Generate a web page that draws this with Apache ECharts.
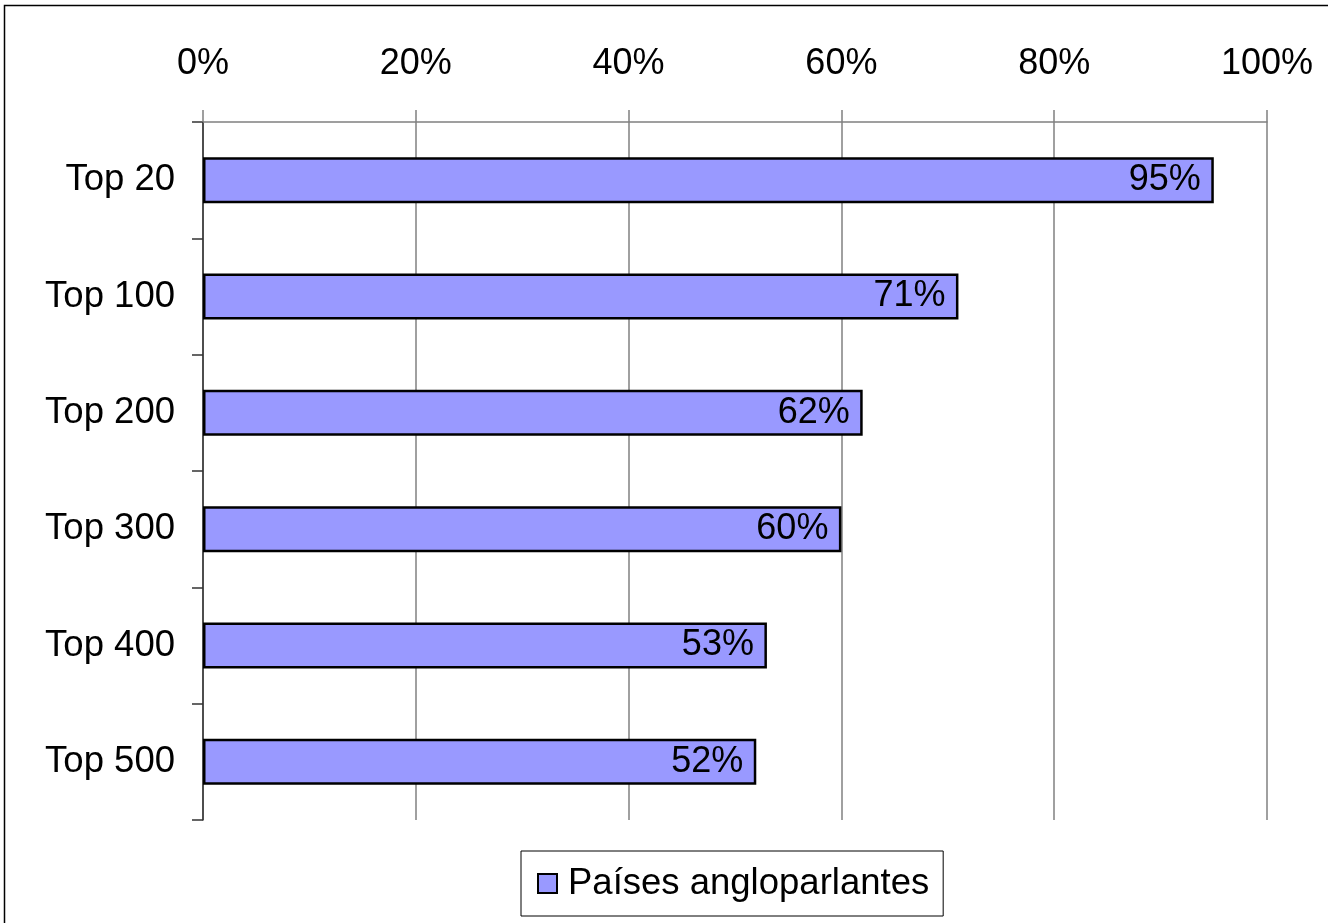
<!DOCTYPE html>
<html lang="es">
<head>
  <meta charset="UTF-8">
  <title>Países angloparlantes</title>
  <script src="https://cdn.jsdelivr.net/npm/echarts@6.0.0/dist/echarts.min.js"></script>
  <style>
    html, body, #main {
      margin: 0;
      padding: 0;
      width: 1328px;
      height: 923px;
      background: #fff;
    }
  </style>
</head>
<body>
  <div id="main"></div>

  <script>
    const categories = ["Top 20", "Top 100", "Top 200", "Top 300", "Top 400", "Top 500"];
    const shares = [95, 71, 62, 60, 53, 52];
    const seriesName = "Países angloparlantes";

    const font = "'Liberation Sans', Arial, sans-serif";
    const chart = echarts.init(document.getElementById('main'));

    const option = {
      animation: false,
      backgroundColor: '#fff',
      textStyle: { fontFamily: font },
      graphic: [{
        type: 'rect',
        shape: { x: 4.5, y: 5.5, width: 1340, height: 940 },
        style: { fill: 'none', stroke: '#000', lineWidth: 1.5 },
        silent: true
      }],
      grid: {
        left: 203,
        right: 1328 - 1267,
        top: 122,
        bottom: 923 - 820
      },
      legend: {
        left: 521,
        top: 851,
        padding: [14, 14, 14, 16],
        borderColor: '#000',
        borderWidth: 1,
        itemWidth: 19,
        itemHeight: 19,
        icon: 'rect',
        textStyle: { fontSize: 36.5, color: '#000', fontFamily: font, padding: [0, 0, 0, 6] },
        data: [{ name: seriesName, itemStyle: { borderColor: '#000', borderWidth: 2 } }]
      },
      xAxis: {
        type: 'value',
        position: 'top',
        min: 0,
        max: 100,
        interval: 20,
        axisLine: { show: true, lineStyle: { color: '#808080', width: 1.5 } },
        axisTick: { show: true, inside: false, length: 12, lineStyle: { color: '#808080', width: 1.5 } },
        splitLine: { show: true, lineStyle: { color: '#808080', width: 1.5 } },
        axisLabel: {
          formatter: v => v + '%',
          fontSize: 36,
          color: '#000',
          margin: 40,
          fontFamily: font
        }
      },
      yAxis: {
        type: 'category',
        inverse: true,
        data: categories,
        axisLine: { show: true, lineStyle: { color: '#333', width: 1.5 } },
        axisTick: { show: true, alignWithLabel: false, length: 11, lineStyle: { color: '#333', width: 1.5 } },
        axisLabel: { fontSize: 36.5, color: '#000', margin: 28, fontFamily: font }
      },
      series: [{
        name: seriesName,
        type: 'bar',
        data: shares,
        barWidth: 46,
        itemStyle: { color: '#9999FF', borderColor: '#000', borderWidth: 2.5 },
        label: {
          show: true,
          position: 'insideRight',
          distance: 13,
          formatter: p => p.value + '%',
          fontSize: 36,
          color: '#000',
          fontFamily: font
        }
      }]
    };

    chart.setOption(option);
  </script>
</body>
</html>
